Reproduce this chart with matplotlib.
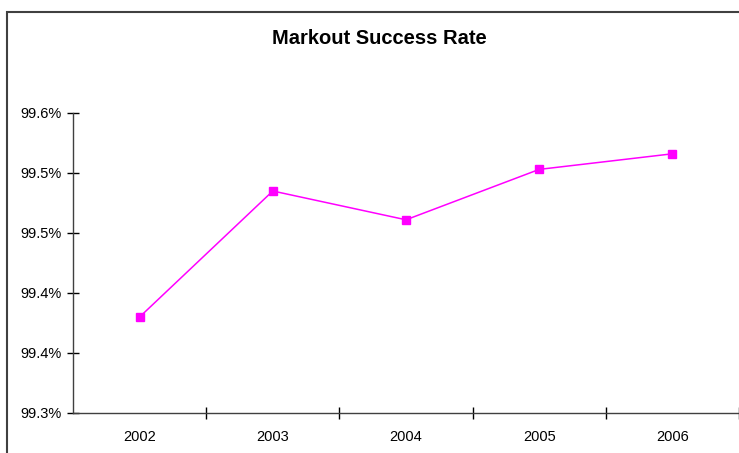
import matplotlib.pyplot as plt
from matplotlib.patches import Rectangle
from matplotlib.ticker import FuncFormatter, FixedLocator

# data
years = ["2002", "2003", "2004", "2005", "2006"]
success_rate = [99.380, 99.485, 99.461, 99.503, 99.516]
y_ticks = [99.30, 99.35, 99.40, 99.45, 99.50, 99.55]

plt.rcParams['font.family'] = ['Liberation Sans', 'DejaVu Sans']

fig = plt.figure(figsize=(7.39, 4.53), dpi=100)
W, H = 739, 453

# outer chart frame (Excel style)
fig.patches.append(Rectangle((6.5 / W, -0.1), 2.0, (H - 11.5) / H + 0.1,
                             transform=fig.transFigure, fill=False,
                             edgecolor='#404040', linewidth=1.5))

ax = fig.add_axes([73 / W, 40 / H, (739 - 73) / W, 300 / H])
x = list(range(len(years)))
ax.plot(x, success_rate, color='#FF00FF', linewidth=1.1,
        marker='s', markersize=6, markeredgecolor='#FF00FF')

ax.set_xlim(-0.5, len(years) - 0.5)
ax.set_ylim(99.30, 99.55)
ax.set_yticks(y_ticks)
# Excel rounds half up, so nudge before formatting
ax.yaxis.set_major_formatter(FuncFormatter(lambda v, p: f"{v + 1e-9:.1f}%"))
ax.set_xticks(x)
ax.set_xticklabels(years)
# category separators (none at the left corner)
ax.xaxis.set_minor_locator(FixedLocator([i + 0.5 for i in range(len(years))]))

ax.tick_params(axis='y', direction='inout', length=9, width=1, labelsize=10.5, pad=4)
ax.tick_params(axis='x', which='major', length=0, labelsize=10.5, pad=12)
ax.tick_params(axis='x', which='minor', direction='inout', length=9, width=1)

for s in ['top', 'right']:
    ax.spines[s].set_visible(False)
for s in ['left', 'bottom']:
    ax.spines[s].set_color('#404040')
    ax.spines[s].set_linewidth(1)

fig.text(379 / W, 1 - 39 / H, "Markout Success Rate", ha='center', va='center',
         fontsize=14.5, fontweight='bold')

fig.savefig("out.png", dpi=100)
